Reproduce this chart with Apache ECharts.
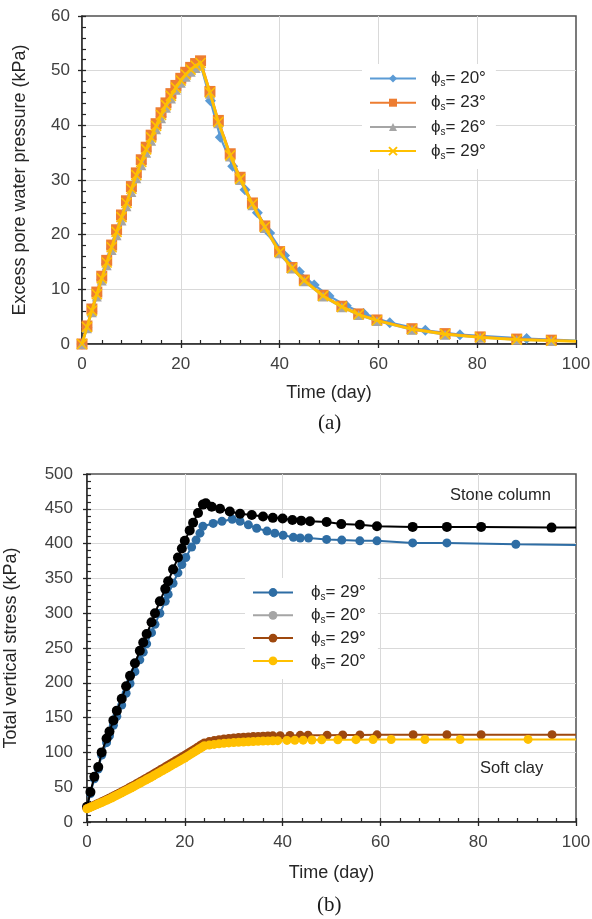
<!DOCTYPE html>
<html>
<head>
<meta charset="utf-8">
<script src="https://cdn.jsdelivr.net/npm/echarts@6/dist/echarts.min.js"></script>
<style>
html,body{margin:0;padding:0;background:#fff;}
#c{width:592px;height:919px;}
</style>
</head>
<body>
<div id="c"></div>
<script>
// ---------- (a) Excess pore water pressure ----------
const tRiseA = [0,1,2,3,4,5,6,7,8,9,10,11,12,13,14,15,16,17,18,19,20,21,22,23,24];
const tDecayA = [25.9,27.6,30,32,34.5,37,40,42.5,45,48.8,52.6,56,59.7,66.8,73.5,80.6,88,95,100];
const u23Rise = [0,3.3,6.4,9.5,12.4,15.3,18.1,20.9,23.6,26.2,28.8,31.3,33.7,36.0,38.2,40.3,42.3,44.1,45.8,47.3,48.6,49.7,50.6,51.3,51.8];
const u23Decay = [46.2,40.9,34.8,30.5,25.8,21.6,16.9,14.0,11.7,8.9,6.9,5.5,4.4,2.8,1.9,1.3,0.9,0.7,0.5];
const u26Rise = [0,2.9,5.8,8.7,11.6,14.4,17.2,19.9,22.6,25.2,27.8,30.3,32.7,35.0,37.2,39.3,41.3,43.2,44.9,46.5,47.8,48.9,49.8,50.5,51.0];
const u26Decay = [45.8,40.4,34.3,30.0,25.4,21.2,16.6,13.8,11.5,8.7,6.7,5.3,4.2,2.6,1.7,1.2,0.8,0.6,0.5];
const u29Rise = [0,3.1,6.1,9.1,12.0,14.9,17.7,20.5,23.2,25.8,28.4,30.9,33.3,35.6,37.8,39.9,41.9,43.7,45.4,46.9,48.2,49.3,50.2,50.9,51.4];
const u29Decay = [46.0,40.6,34.5,30.2,25.6,21.4,16.8,13.9,11.6,8.8,6.8,5.4,4.3,2.7,1.8,1.2,0.8,0.6,0.5];
const tDecay20 = [26,28,30.5,33,35.5,38,41,44,47,50,53.5,57,62.3,69.5,76.5,90,100];
const u20Rise = [0,3.0,6.0,8.9,11.8,14.7,17.5,20.2,22.9,25.5,28.1,30.6,33.0,35.3,37.5,39.6,41.6,43.4,45.1,46.7,48.0,49.1,50.0,50.7,51.2];
const u20Decay = [44.5,37.8,32.5,28.2,24.0,20.3,16.2,13.2,10.8,8.8,7.0,5.6,3.9,2.5,1.7,1.0,0.6];
const degA = ['20','23','26','29'];

// ---------- (b) Total vertical stress ----------
const tSC20 = [0,0.7,1.5,2.3,3.0,4.0,4.6,5.4,6.1,7.1,8.0,8.8,9.8,10.8,11.5,12.2,13.2,13.9,14.9,16.0,16.6,17.6,18.6,19.4,20.0,21.0,21.7,22.7,23.7,24.3,25.5,27.2,29.2,31.3,33.7,36.0,38.0,40.0,42.0,43.8,45.6,49.0,52.0,55.8,59.3,66.6,73.6,80.6,95.0,100];
const sSC20 = [22,43,65,79,100,120,130,146,160,177,195,210,228,246,258,270,287,300,317,335,346,363,380,393,404,419,430,444,456,458,453,450,446,443,441,439,437,436,434,433,432,431,428,427,425,424,424,424,423,423];
const tSC29 = [0,0.7,1.5,2.3,3.0,4.0,4.6,5.4,6.1,7.1,8.0,8.8,9.8,10.8,11.5,12.2,13.2,13.9,14.9,16.0,16.6,17.6,18.6,19.4,20.2,21.4,22.3,23.1,23.7,25.8,27.6,29.7,31.3,33.0,34.7,36.8,38.4,40.1,42.2,43.6,45.3,49.0,52.1,55.8,59.3,66.6,73.6,87.7,100];
const sSC29 = [22,41,62,76,96,114,124,139,152,168,185,199,216,233,244,256,272,284,300,317,327,343,358,370,380,395,405,415,425,429,432,435,432,427,422,418,415,412,409,408,408,406,405,404,404,401,401,399,398];
const tClayRise = [0,0.5,1,1.5,2,2.5,3,3.5,4,4.5,5,5.5,6,6.5,7,7.5,8,8.5,9,9.5,10,10.5,11,11.5,12,12.5,13,13.5,14,14.5,15,15.5,16,16.5,17,17.5,18,18.5,19,19.5,20,20.5,21,21.5,22,22.5,23,23.5,24];
const sSF29Rise = [19.5,21,22.6,24.2,25.8,27.4,29,30.7,32.4,34.1,35.8,37.6,39.4,41.2,43,44.9,46.8,48.7,50.6,52.5,54.5,56.5,58.5,60.5,62.5,64.5,66.5,68.6,70.7,72.8,74.9,77,79.1,81.2,83.3,85.4,87.5,89.6,91.7,93.8,95.9,98.1,100.3,102.5,104.7,106.9,109.1,111.3,113.5];
const tSF29Post = [25,26,27,28,29,30,31,32,33,34,35,36,37,38,39.5,41.5,43.6,45.2,49.1,52.3,55.8,59.3,66.7,73.6,80.6,95.1,100];
const sSF29Post = [115.5,117,118.2,119.2,120,120.7,121.3,121.8,122.3,122.7,123,123.3,123.6,123.8,124.1,124.3,124.5,124.6,124.8,125,125.1,125.2,125.3,125.4,125.4,125.5,125.5];
const sSF20Rise = [19,20.5,22,23.5,25,26.5,28,29.6,31.2,32.8,34.5,36.2,38,39.8,41.6,43.4,45.2,47,48.8,50.7,52.6,54.5,56.4,58.3,60.2,62.1,64,66,68,70,72,74,76,78,80,82,84,86,88,90,92,94.2,96.4,98.6,100.8,103,105.2,107.4,109.5];
const tSF20Post = [25,26,27,28,29,30,31,32,33,34,35,36,37,38,39,40.9,42.5,44.2,46,48,51.3,55,58.5,62.2,69.1,76.3,90.2,100];
const sSF20Post = [110.5,111.5,112.3,113,113.6,114.1,114.5,114.9,115.3,115.6,115.9,116.2,116.5,116.7,116.9,117.2,117.4,117.6,117.8,118,118.2,118.3,118.4,118.5,118.6,118.6,118.7,118.7];
const degB = {sc29:'29', sc20:'20', sf29:'29', sf20:'20'};

const FONT = '"Liberation Sans", Arial, sans-serif';

function pts(ts, vs) {
  return ts.map((t, i) => i === ts.length - 1 ? {value: [t, vs[i]], symbol: 'none'} : [t, vs[i]]);
}
function phiLabel(d) { return '{p|ϕ}{s|s}{t|= ' + d + '°}'; }

const richLegend = {
  p: {fontSize: 17, fontFamily: FONT, color: '#262626', lineHeight: 20},
  s: {fontSize: 10, fontFamily: FONT, color: '#262626', lineHeight: 13, verticalAlign: 'bottom'},
  t: {fontSize: 17, fontFamily: FONT, color: '#262626', lineHeight: 20}
};

function mainX(grid, nameGap) {
  return {
    gridIndex: grid, type: 'value', min: 0, max: 100, interval: 20, position: 'bottom',
    axisLine: {show: true, onZero: false, lineStyle: {color: '#262626', width: 1.5}},
    axisTick: {show: true, length: 4, lineStyle: {color: '#262626', width: 1.3}},
    minorTick: {show: false},
    splitLine: {show: true, showMaxLine: false, lineStyle: {color: '#d9d9d9', width: 1}},
    axisLabel: {fontSize: 17, color: '#404040', fontFamily: FONT, margin: 12},
    name: 'Time (day)', nameLocation: 'middle', nameGap: nameGap,
    nameTextStyle: {fontSize: 18, color: '#262626', fontFamily: FONT}
  };
}
function innerX(grid) {
  return {
    gridIndex: grid, type: 'value', min: 0, max: 100, interval: 20, position: 'bottom',
    axisLine: {show: false}, axisLabel: {show: false}, splitLine: {show: false},
    axisTick: {show: true, inside: true, length: 4, lineStyle: {color: '#262626', width: 1.3}},
    minorTick: {show: true, splitNumber: 5, length: 4, lineStyle: {color: '#262626', width: 1.2}}
  };
}
function mainY(grid, max, interval, name, nameGap, margin) {
  return {
    gridIndex: grid, type: 'value', min: 0, max: max, interval: interval, position: 'left',
    axisLine: {show: true, onZero: false, lineStyle: {color: '#262626', width: 1.5}},
    axisTick: {show: true, length: 4, lineStyle: {color: '#262626', width: 1.3}},
    minorTick: {show: false},
    splitLine: {show: true, showMaxLine: false, lineStyle: {color: '#d9d9d9', width: 1}},
    axisLabel: {fontSize: 17, color: '#404040', fontFamily: FONT, margin: margin},
    name: name, nameLocation: 'middle', nameGap: nameGap,
    nameTextStyle: {fontSize: 18, color: '#262626', fontFamily: FONT}
  };
}
function innerY(grid, max, interval) {
  return {
    gridIndex: grid, type: 'value', min: 0, max: max, interval: interval, position: 'left',
    axisLine: {show: false}, axisLabel: {show: false}, splitLine: {show: false},
    axisTick: {show: true, inside: true, length: 4, lineStyle: {color: '#262626', width: 1.3}},
    minorTick: {show: true, splitNumber: 5, length: 4, lineStyle: {color: '#262626', width: 1.2}}
  };
}

const xSym = 'path://M0,0L10,10M10,0L0,10';

const option = {
  backgroundColor: '#fff',
  animation: false,
  grid: [
    {left: 82, top: 16, width: 494, height: 328, show: true, borderColor: '#505050', borderWidth: 1.5, outerBoundsMode: 'none', containLabel: false},
    {left: 87, top: 474, width: 489, height: 348, show: true, borderColor: '#505050', borderWidth: 1.5, outerBoundsMode: 'none', containLabel: false}
  ],
  xAxis: [mainX(0, 40), innerX(0), mainX(1, 42), innerX(1)],
  yAxis: [
    mainY(0, 60, 10, 'Excess pore water pressure (kPa)', 53, 12), innerY(0, 60, 10),
    mainY(1, 500, 50, 'Total vertical stress (kPa)', 67, 14), innerY(1, 500, 50)
  ],
  legend: [
    {
      orient: 'vertical', left: 362, top: 64, padding: [6, 10, 8, 7],
      backgroundColor: '#fff', itemWidth: 46, itemHeight: 10, itemGap: 5.7,
      data: ['u20', 'u23', 'u26', 'u29'],
      formatter: function (n) { return phiLabel(degA[['u20','u23','u26','u29'].indexOf(n)]); },
      textStyle: {rich: richLegend, padding: [0, 0, 0, 10]}
    },
    {
      orient: 'vertical', left: 245, top: 578, padding: [6, 12, 8, 7],
      backgroundColor: '#fff', itemWidth: 40, itemHeight: 11, itemGap: 4.3,
      data: [
        {name: 'sc29'},
        {name: 'sc20', itemStyle: {color: '#a5a5a5', borderColor: '#a5a5a5'}, lineStyle: {color: '#a5a5a5'}},
        {name: 'sf29'},
        {name: 'sf20'}
      ],
      formatter: function (n) { return phiLabel(degB[n]); },
      textStyle: {rich: richLegend, padding: [0, 0, 0, 13]}
    }
  ],
  graphic: [
    {type: 'text', left: 450, top: 487, style: {text: 'Stone column', fontSize: 16.5, fontFamily: FONT, fill: '#262626'}},
    {type: 'text', left: 480, top: 760, style: {text: 'Soft clay', fontSize: 16.5, fontFamily: FONT, fill: '#262626'}},
    {type: 'text', left: 318, top: 413, style: {text: '(a)', fontSize: 21, fontFamily: '"Liberation Serif", "Times New Roman", serif', fill: '#1a1a1a'}},
    {type: 'text', left: 317, top: 895, style: {text: '(b)', fontSize: 21, fontFamily: '"Liberation Serif", "Times New Roman", serif', fill: '#1a1a1a'}}
  ],
  series: [
    {
      name: 'u20', type: 'line', xAxisIndex: 0, yAxisIndex: 0,
      data: pts(tRiseA.concat(tDecay20), u20Rise.concat(u20Decay)),
      symbol: 'diamond', symbolSize: 11,
      itemStyle: {color: '#5b9bd5'}, lineStyle: {color: '#5b9bd5', width: 2.2}, z: 2
    },
    {
      name: 'u23', type: 'line', xAxisIndex: 0, yAxisIndex: 0,
      data: pts(tRiseA.concat(tDecayA), u23Rise.concat(u23Decay)),
      symbol: 'rect', symbolSize: 11,
      itemStyle: {color: '#ed7d31'}, lineStyle: {color: '#ed7d31', width: 2.2}, z: 3
    },
    {
      name: 'u26', type: 'line', xAxisIndex: 0, yAxisIndex: 0,
      data: pts(tRiseA.concat(tDecayA), u26Rise.concat(u26Decay)),
      symbol: 'triangle', symbolSize: 10,
      itemStyle: {color: '#a5a5a5'}, lineStyle: {color: '#a5a5a5', width: 2.2}, z: 4
    },
    {
      name: 'u29', type: 'line', xAxisIndex: 0, yAxisIndex: 0,
      data: pts(tRiseA.concat(tDecayA), u29Rise.concat(u29Decay)),
      symbol: xSym, symbolSize: 10,
      itemStyle: {color: '#ffc000', borderColor: '#ffc000', borderWidth: 1.6}, lineStyle: {color: '#ffc000', width: 2.8}, z: 5
    },
    {
      name: 'sc29', type: 'line', xAxisIndex: 2, yAxisIndex: 2,
      data: pts(tSC29, sSC29),
      symbol: 'circle', symbolSize: 9,
      itemStyle: {color: '#2e6da4'}, lineStyle: {color: '#2e6da4', width: 2}, z: 2
    },
    {
      name: 'sc20', type: 'line', xAxisIndex: 2, yAxisIndex: 2,
      data: pts(tSC20, sSC20),
      symbol: 'circle', symbolSize: 10,
      itemStyle: {color: '#000000'}, lineStyle: {color: '#000000', width: 2}, z: 3
    },
    {
      name: 'sf29', type: 'line', xAxisIndex: 2, yAxisIndex: 2,
      data: pts(tClayRise.concat(tSF29Post), sSF29Rise.concat(sSF29Post)),
      symbol: 'circle', symbolSize: 9,
      itemStyle: {color: '#9e480e'}, lineStyle: {color: '#9e480e', width: 2}, z: 4
    },
    {
      name: 'sf20', type: 'line', xAxisIndex: 2, yAxisIndex: 2,
      data: pts(tClayRise.concat(tSF20Post), sSF20Rise.concat(sSF20Post)),
      symbol: 'circle', symbolSize: 9,
      itemStyle: {color: '#ffc000'}, lineStyle: {color: '#ffc000', width: 2}, z: 5
    }
  ]
};

const chart = echarts.init(document.getElementById('c'), null, {renderer: 'canvas'});
chart.setOption(option);
</script>
</body>
</html>
